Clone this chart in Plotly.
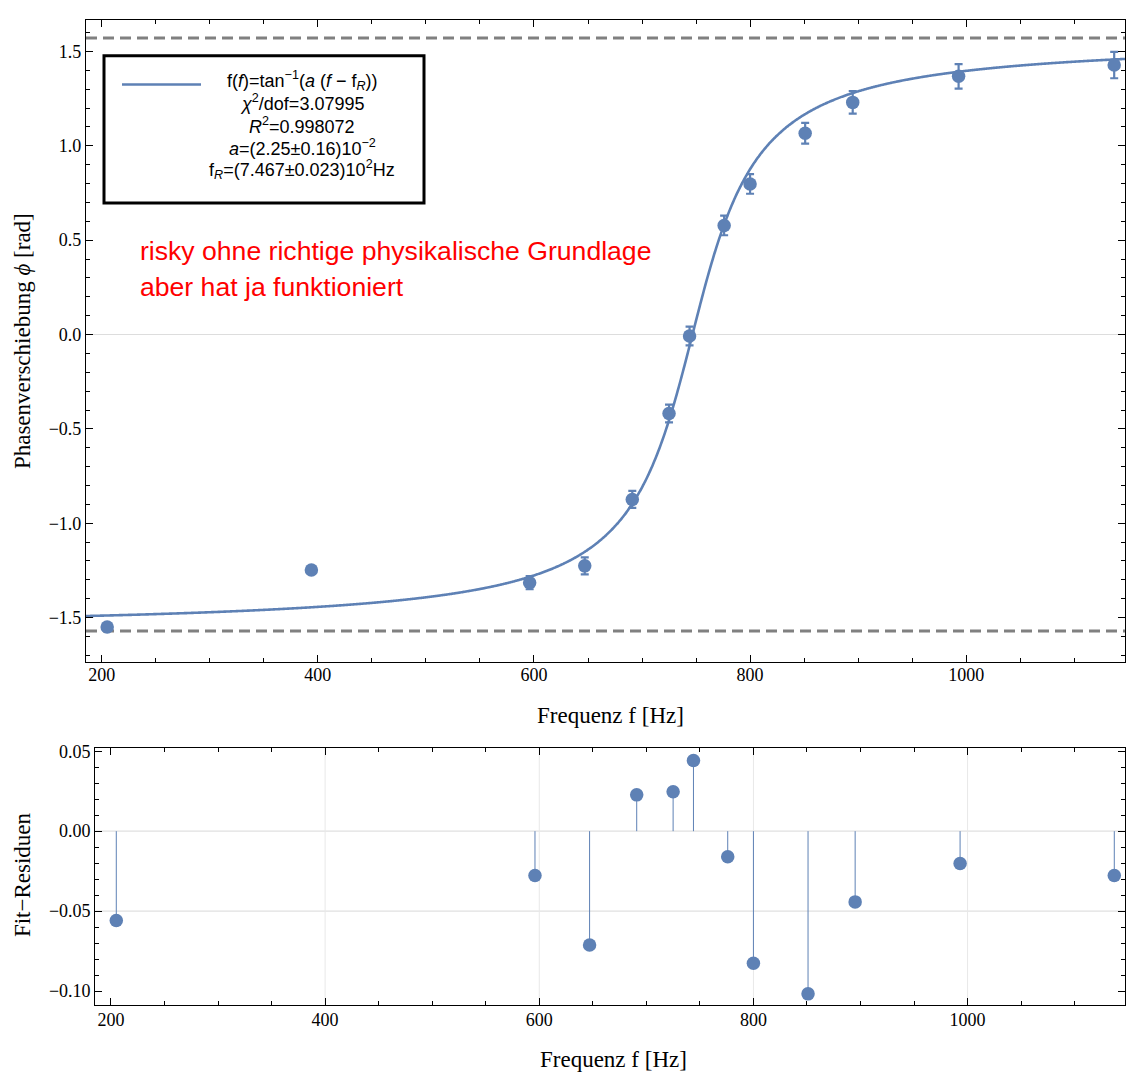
import numpy as np
import plotly.graph_objects as go

# ---- data ----
freq = [205, 394, 596, 647, 691, 725, 744, 776, 800, 851, 895, 993, 1137]
phase = [-1.550, -1.248, -1.315, -1.226, -0.874, -0.419, -0.008, 0.578, 0.798,
         1.066, 1.230, 1.368, 1.428]
phase_err = [0, 0, 0.035, 0.045, 0.045, 0.047, 0.050, 0.052, 0.052,
             0.055, 0.060, 0.065, 0.070]

res_freq = [205, 596, 647, 691, 725, 744, 776, 800, 851, 895, 993, 1137]
residuals = [-0.0558, -0.0277, -0.0711, 0.0227, 0.0246, 0.0442, -0.0160,
             -0.0825, -0.1017, -0.0442, -0.0202, -0.0277]

fit_a = 2.25e-2      # 1/Hz
fit_fR = 746.7       # Hz

x_ticks = [200, 400, 600, 800, 1000]
res_grid_x = [400, 600, 800, 1000]
res_grid_y = [0.0, -0.05]

# ---- styling ----
W, H = 1126, 1073
BLUE = "#5E81B5"
GRAY = "#808080"
SERIF = "Liberation Serif"
SANS = "Liberation Sans"
XR = [185.4, 1147.0]


def px(x):
    return x / W


def py(y):
    return 1 - y / H


fig = go.Figure()

# asymptotes at +-pi/2
for s in (1, -1):
    fig.add_trace(go.Scatter(x=XR, y=[s * np.pi / 2] * 2, mode="lines",
                             line=dict(color=GRAY, width=3, dash="11px,6px"),
                             hoverinfo="skip", showlegend=False,
                             xaxis="x", yaxis="y"))

# fit curve
f_grid = np.linspace(XR[0], XR[1], 800)
fig.add_trace(go.Scatter(x=f_grid, y=np.arctan(fit_a * (f_grid - fit_fR)),
                         mode="lines", line=dict(color=BLUE, width=2.6, shape="spline"),
                         showlegend=False, xaxis="x", yaxis="y"))

# data with error bars
fig.add_trace(go.Scatter(x=freq, y=phase, mode="markers",
                         marker=dict(color=BLUE, size=13.5),
                         error_y=dict(type="data", array=phase_err, visible=True,
                                      thickness=2.2, width=4, color=BLUE),
                         showlegend=False, xaxis="x", yaxis="y"))

# residual stems
stem_x, stem_y = [], []
for f, r in zip(res_freq, residuals):
    stem_x += [f, f, None]
    stem_y += [0, r, None]
fig.add_trace(go.Scatter(x=stem_x, y=stem_y, mode="lines",
                         line=dict(color=BLUE, width=1),
                         showlegend=False, xaxis="x2", yaxis="y2"))
fig.add_trace(go.Scatter(x=res_freq, y=residuals, mode="markers",
                         marker=dict(color=BLUE, size=13.5),
                         showlegend=False, xaxis="x2", yaxis="y2"))

axis_common = dict(showline=True, linecolor="black", linewidth=1.2,
                   mirror="ticks", ticks="inside", ticklen=7, tickwidth=1,
                   tickcolor="black",
                   tickfont=dict(family=SERIF, size=18, color="black"))

fig.update_layout(
    width=W, height=H,
    margin=dict(l=0, r=0, t=0, b=0),
    paper_bgcolor="white", plot_bgcolor="white",
    xaxis=dict(domain=[px(86), px(1125)], range=XR, anchor="y",
               tickvals=x_ticks, showgrid=False, zeroline=False,
               ticklabelstandoff=-4,
               minor=dict(ticks="inside", dtick=50, tick0=0, ticklen=4,
                          tickcolor="black", showgrid=False),
               **axis_common),
    yaxis=dict(domain=[py(660), py(14)], range=[-1.737, 1.667], anchor="x",
               dtick=0.5, tick0=0, tickformat=".1f", showgrid=False,
               zeroline=True, zerolinecolor="#dddddd", zerolinewidth=1.2,
               minor=dict(ticks="inside", dtick=0.1, tick0=0, ticklen=4,
                          tickcolor="black", showgrid=False),
               **axis_common),
    xaxis2=dict(domain=[px(95.3), px(1125)], range=XR, anchor="y2",
                tickvals=x_ticks, showgrid=False, zeroline=False,
                ticklabelstandoff=-2,
                minor=dict(ticks="inside", dtick=50, tick0=0, ticklen=4,
                           tickcolor="black", showgrid=False),
                **axis_common),
    yaxis2=dict(domain=[py(1005), py(746)], range=[-0.1089, 0.0521],
                anchor="x2", dtick=0.05, tick0=0, tickformat=".2f",
                showgrid=False, zeroline=False,
                minor=dict(ticks="inside", dtick=0.01, tick0=0, ticklen=4,
                           tickcolor="black", showgrid=False),
                **axis_common),
)

# guide lines in residual panel
for gy in res_grid_y:
    fig.add_shape(type="line", xref="x2 domain", yref="y2", x0=0, x1=1,
                  y0=gy, y1=gy, line=dict(color="#e0e0e0", width=1.2),
                  layer="below")
for gx in res_grid_x:
    fig.add_shape(type="line", xref="x2", yref="y2 domain", x0=gx, x1=gx,
                  y0=0, y1=1, line=dict(color="#e8e8e8", width=1),
                  layer="below")

# axis titles
title_font = dict(family=SERIF, size=23, color="black")
fig.add_annotation(text="Frequenz f [Hz]", x=px(610), y=py(713),
                   xref="paper", yref="paper", showarrow=False,
                   font=title_font, xanchor="center", yanchor="middle")
fig.add_annotation(text="Frequenz f [Hz]", x=px(613), y=py(1059),
                   xref="paper", yref="paper", showarrow=False,
                   font=title_font, xanchor="center", yanchor="middle")
fig.add_annotation(text="Phasenverschiebung <i>ϕ</i> [rad]", x=px(22), y=py(337),
                   xref="paper", yref="paper", showarrow=False, textangle=-90,
                   font=title_font, xanchor="center", yanchor="middle")
fig.add_annotation(text="Fit−Residuen", x=px(22), y=py(874),
                   xref="paper", yref="paper", showarrow=False, textangle=-90,
                   font=title_font, xanchor="center", yanchor="middle")

# legend box
fig.add_shape(type="rect", xref="paper", yref="paper",
              x0=px(104), x1=px(424), y0=py(198), y1=py(50),
              line=dict(color="black", width=3), fillcolor="white", layer="above")
fig.add_shape(type="line", xref="paper", yref="paper",
              x0=px(122), x1=px(201), y0=py(79), y1=py(79),
              line=dict(color=BLUE, width=2.6), layer="above")
legend_lines = [
    ("f(<i>f</i>)=tan<sup>−1</sup>(<i>a</i> (<i>f</i> − f<sub><i>R</i></sub>))", 75),
    ("<i>χ</i><sup>2</sup>/dof=3.07995", 97),
    ("<i>R</i><sup>2</sup>=0.998072", 120),
    ("<i>a</i>=(2.25±0.16)10<sup>−2</sup>", 142),
    ("f<sub><i>R</i></sub>=(7.467±0.023)10<sup>2</sup>Hz", 164),
]
for txt, yy in legend_lines:
    fig.add_annotation(text=txt, x=px(302), y=py(yy), xref="paper", yref="paper",
                       showarrow=False, xanchor="center", yanchor="middle",
                       font=dict(family=SANS, size=18, color="black"))

# red comment
for txt, yy in [("risky ohne richtige physikalische Grundlage", 246),
                ("aber hat ja funktioniert", 283)]:
    fig.add_annotation(text=txt, x=px(138), y=py(yy), xref="paper", yref="paper",
                       showarrow=False, xanchor="left", yanchor="middle",
                       font=dict(family=SANS, size=26.6, color="red"))

fig.write_html(
    "out.html",
    config={"displayModeBar": False},
    post_script="document.body.style.margin='0';"
                "document.documentElement.style.overflow='hidden';",
)
